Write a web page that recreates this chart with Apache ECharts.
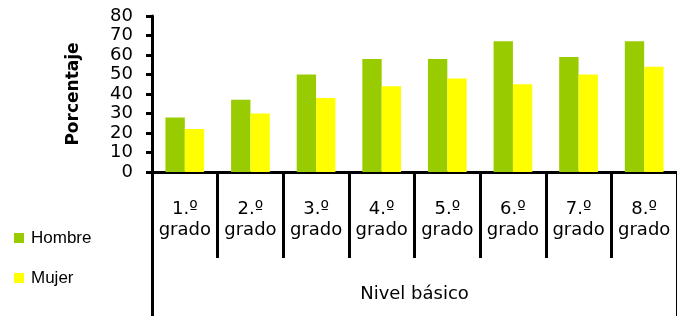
<!DOCTYPE html>
<html>
<head>
<meta charset="utf-8">
<script src="https://cdn.jsdelivr.net/npm/echarts@6/dist/echarts.min.js"></script>
<style>
html,body{margin:0;padding:0;background:#fff;}
#chart{width:677px;height:316px;}
</style>
</head>
<body>
<div id="chart"></div>
<script>
var categories = ['1.º\ngrado','2.º\ngrado','3.º\ngrado','4.º\ngrado','5.º\ngrado','6.º\ngrado','7.º\ngrado','8.º\ngrado'];
var groupLabel = ['Nivel básico'];
var hombre = [28, 37, 50, 58, 58, 67, 59, 67];
var mujer = [22, 30, 38, 44, 48, 45, 50, 54];
var seriesNames = ['Hombre', 'Mujer'];
var yAxisName = 'Porcentaje';

var chart = echarts.init(document.getElementById('chart'), null, {renderer: 'canvas'});
var black = '#000';
chart.setOption({
  animation: false,
  backgroundColor: '#fff',
  grid: {left: 152, top: 16, width: 532, height: 156, containLabel: false},
  legend: {
    orient: 'vertical', left: 9, top: 223,
    itemWidth: 10, itemHeight: 10, itemGap: 20,
    icon: 'rect',
    textStyle: {fontFamily: 'Liberation Sans', fontSize: 17, color: black, lineHeight: 20, padding: [0, 0, 0, 2]},
    data: seriesNames
  },
  xAxis: [{
    type: 'category', data: categories, position: 'bottom',
    axisLine: {show: true, lineStyle: {color: black, width: 3}},
    axisTick: {show: true, interval: 0, length: 86, lineStyle: {color: black, width: 3}},
    axisLabel: {interval: 0, margin: 27, fontFamily: 'DejaVu Sans', fontSize: 18, lineHeight: 21, color: black},
    splitLine: {show: false}
  }, {
    type: 'category', data: groupLabel, position: 'bottom', offset: 0,
    axisLine: {show: false},
    axisTick: {show: true, length: 144, lineStyle: {color: black, width: 3}},
    axisLabel: {margin: 113, fontFamily: 'DejaVu Sans', fontSize: 18, color: black},
    splitLine: {show: false}
  }],
  yAxis: {
    type: 'value', min: 0, max: 80, interval: 10,
    name: yAxisName, nameLocation: 'middle', nameGap: 70, nameRotate: 90,
    nameTextStyle: {fontFamily: 'DejaVu Sans', fontWeight: 'bold', fontSize: 17, color: black},
    axisLine: {show: true, lineStyle: {color: black, width: 3}},
    axisTick: {show: true, length: 6, lineStyle: {color: black, width: 3}},
    axisLabel: {margin: 19, fontFamily: 'DejaVu Sans', fontSize: 18, color: black},
    splitLine: {show: false}
  },
  series: [{
    name: seriesNames[0], type: 'bar', data: hombre, xAxisIndex: 0,
    barGap: '0%', barCategoryGap: '41%',
    itemStyle: {color: '#99CC00'}
  }, {
    name: seriesNames[1], type: 'bar', data: mujer, xAxisIndex: 0,
    barGap: '0%', barCategoryGap: '41%',
    itemStyle: {color: '#FFFF00'}
  }]
});
</script>
</body>
</html>
